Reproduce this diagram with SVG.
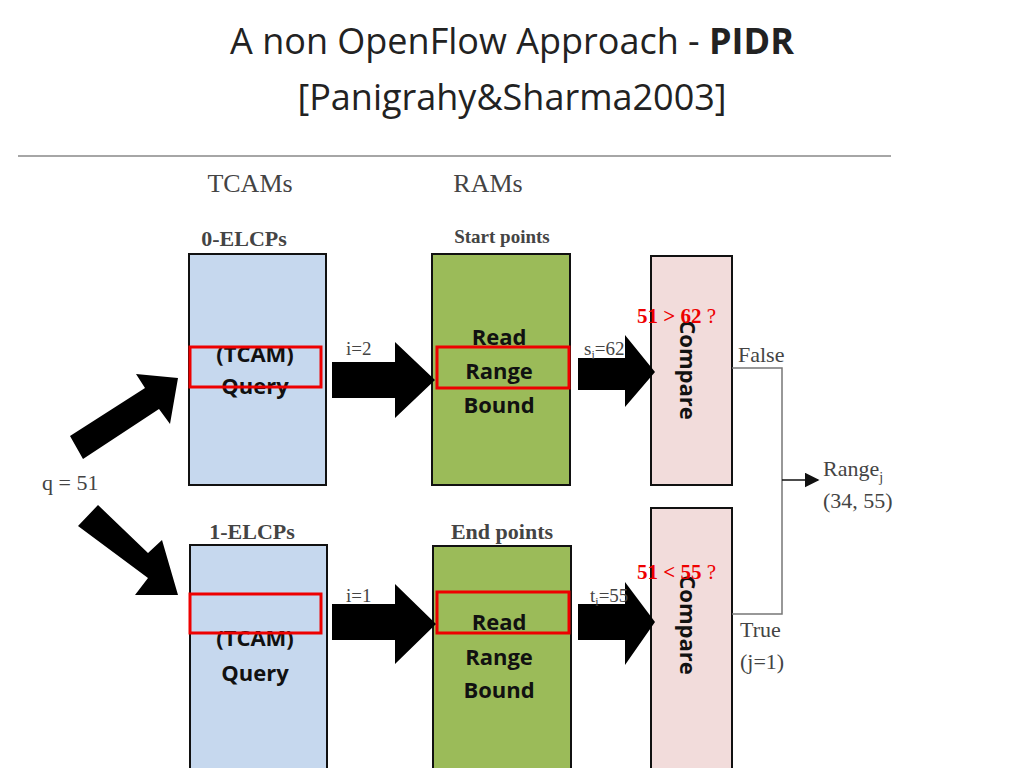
<svg xmlns="http://www.w3.org/2000/svg" width="1024" height="768" viewBox="0 0 1024 768">
<style>
.t{font-family:"Open Sans","Liberation Sans",sans-serif;fill:#222}
.s{font-family:"Liberation Serif",serif;fill:#444}
.b{font-family:"Open Sans","Liberation Sans",sans-serif;font-weight:bold;font-size:22px;fill:#111;text-anchor:middle}
.r{fill:none;stroke:#e00;stroke-width:3}
.blue{fill:#c6d8ee;stroke:#111;stroke-width:2}
.green{fill:#9bbb59;stroke:#111;stroke-width:2}
.pink{fill:#f2dcdb;stroke:#111;stroke-width:2}
.red{font-family:"Liberation Serif",serif;font-weight:bold;font-size:21px;fill:#e00}
</style>
<defs><marker id="a" markerWidth="10" markerHeight="10" refX="9" refY="5" orient="auto"><path d="M0,0L10,5L0,10z" fill="#111"/></marker></defs>
<text class="t" x="512" y="54" font-size="36" text-anchor="middle">A non OpenFlow Approach - <tspan font-weight="bold">PIDR</tspan></text>
<text class="t" x="512" y="110" font-size="36" text-anchor="middle" fill="#444">[Panigrahy&amp;Sharma2003]</text>
<line x1="18" y1="156" x2="891" y2="156" stroke="#888" stroke-width="1.5"/>
<text class="s" x="250" y="192" font-size="26" text-anchor="middle">TCAMs</text>
<text class="s" x="488" y="192" font-size="26" text-anchor="middle">RAMs</text>
<text class="s" x="244" y="246" font-size="22" font-weight="bold" text-anchor="middle" fill="#222">0-ELCPs</text>
<text class="s" x="502" y="243" font-size="19" font-weight="bold" text-anchor="middle" fill="#222">Start points</text>
<text class="s" x="252" y="539" font-size="22" font-weight="bold" text-anchor="middle" fill="#222">1-ELCPs</text>
<text class="s" x="502" y="539" font-size="22" font-weight="bold" text-anchor="middle" fill="#222">End points</text>
<g id="tcam0"><rect class="blue" x="189" y="254" width="137" height="231"/><text class="b" x="255" y="362">(TCAM)</text><text class="b" x="255" y="394">Query</text><rect class="r" x="190" y="347" width="131" height="40"/></g>
<g id="ram0"><rect class="green" x="432" y="254" width="138" height="231"/><text class="b" x="499" y="345">Read</text><text class="b" x="499" y="379">Range</text><text class="b" x="499" y="413">Bound</text><rect class="r" x="437" y="347" width="132" height="41"/></g>
<g id="cmp0"><rect class="pink" x="651" y="256" width="81" height="229"/><text class="b" transform="translate(680,370) rotate(90)">Compare</text></g>
<g id="tcam1"><rect class="blue" x="190" y="545" width="137" height="225"/><text class="b" x="255" y="646">(TCAM)</text><text class="b" x="255" y="681">Query</text><rect class="r" x="190" y="594" width="131" height="39"/></g>
<g id="ram1"><rect class="green" x="433" y="546" width="138" height="224"/><text class="b" x="499" y="630">Read</text><text class="b" x="499" y="665">Range</text><text class="b" x="499" y="698">Bound</text><rect class="r" x="437" y="592" width="132" height="41"/></g>
<g id="cmp1"><rect class="pink" x="651" y="508" width="81" height="262"/><text class="b" transform="translate(680,625) rotate(90)">Compare</text></g>
<g id="connectors">
<polygon points="332,362 395,362 395,342 435,380 395,418 395,398 332,398" fill="#000"/>
<polygon points="332,604 395,604 395,584 436,624 395,664 395,640 332,640" fill="#000"/>
<polygon points="578,358 625,358 625,335 655,372 625,407 625,390 578,390" fill="#000"/>
<polygon points="578,604 625,604 625,582 655,622 625,665 625,640 578,640" fill="#000"/>
<polygon points="70,436 145,388 136,374 178,378 170,424 159,409 83,459" fill="#000"/>
<polygon points="78,526 98,505 148,553 162,540 178,595 135,595 148,578" fill="#000"/>
<polyline points="732,368 782,368 782,614 732,614" fill="none" stroke="#777" stroke-width="1.5"/>
<line x1="782" y1="480" x2="818" y2="480" stroke="#111" stroke-width="1.5" marker-end="url(#a)"/>
</g>
<text class="s" x="42" y="490" font-size="22">q = 51</text>
<text class="s" x="346" y="355" font-size="19">i=2</text>
<text class="s" x="346" y="602" font-size="19">i=1</text>
<text class="s" x="584" y="355" font-size="19">s<tspan font-size="12" dy="4">i</tspan><tspan dy="-4">=62</tspan></text>
<text class="s" x="590" y="602" font-size="19">t<tspan font-size="12" dy="4">i</tspan><tspan dy="-4">=55</tspan></text>
<text class="s" x="738" y="362" font-size="22">False</text>
<text class="s" x="740" y="637" font-size="22">True</text>
<text class="s" x="740" y="669" font-size="22">(j=1)</text>
<text class="s" x="823" y="476" font-size="22">Range<tspan font-size="14" dy="6">j</tspan></text>
<text class="s" x="823" y="508" font-size="22">(34, 55)</text>
<text class="red" x="637" y="323">51 &gt; 62 <tspan font-weight="normal">?</tspan></text>
<text class="red" x="637" y="579">51 &lt; 55 <tspan font-weight="normal">?</tspan></text>
</svg>
